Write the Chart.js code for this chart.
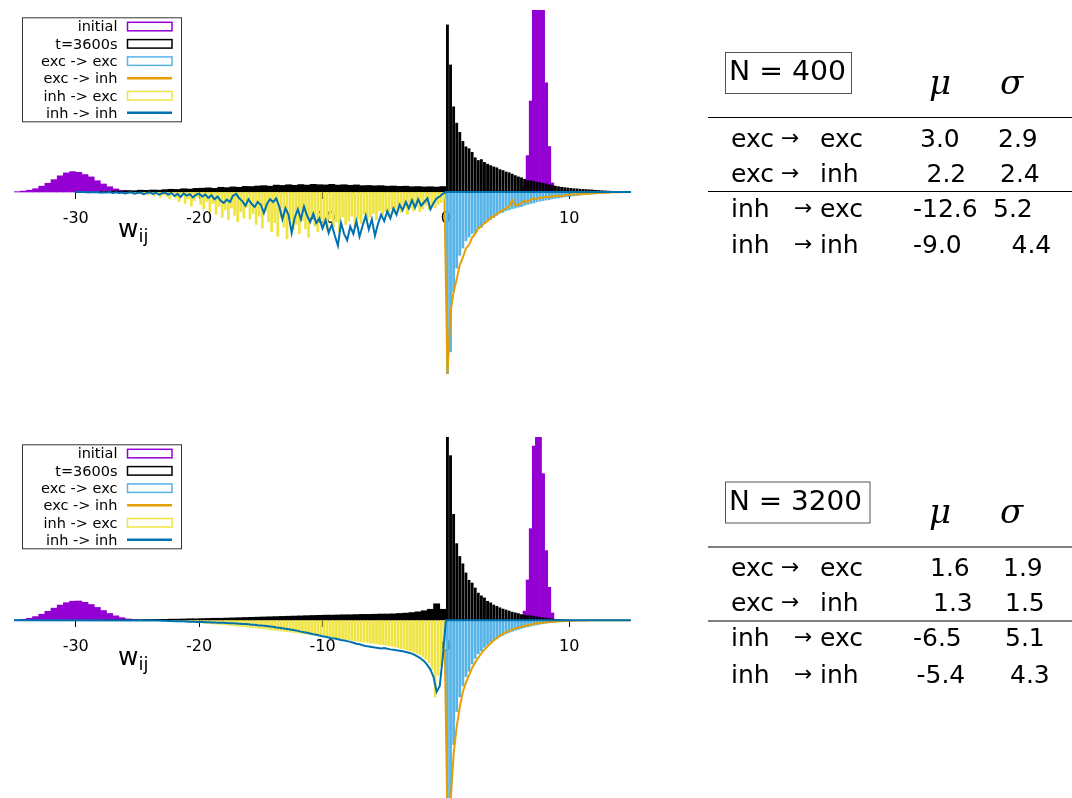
<!DOCTYPE html>
<html>
<head>
<meta charset="utf-8">
<title>w_ij distributions</title>
<script src="https://cdn.jsdelivr.net/npm/chart.js@4.4.1/dist/chart.umd.min.js"></script>
<style>
  html, body { margin: 0; padding: 0; background: #fff; }
  body { position: relative; width: 1072px; height: 798px; overflow: hidden; font-family: 'DejaVu Sans', sans-serif; }
  canvas { position: absolute; left: 0; }
  #chart400 { top: 0; }
  #chart3200 { top: 420px; }
  #overlay { position: absolute; left: 0; top: 0; pointer-events: none; }
</style>
</head>
<body>
<canvas id="chart400" width="660" height="400"></canvas>
<canvas id="chart3200" width="660" height="378"></canvas>
<svg id="overlay" width="1072" height="798" xmlns="http://www.w3.org/2000/svg"></svg>
<script>
// ---------- axis ----------
const X_MIN = -35;
const X_MAX = 15;
const xTicks = [-30, -20, -10, 0, 10];

// ---------- bin layout (bin centres) ----------
const WIDE_BIN = 0.5;
const NARROW_BIN = 0.25;
const initLeftStart = -34.75;   // wide bins
const initRightStart = 6.375;   // narrow bins
const blackNegStart = -27.75;   // wide bins
const posStart = 0.125;         // narrow bins, 0..15
const orangeStart = -0.125;     // line points
const inhExcStart400 = -25.875; // narrow bins
const inhExcStart3200 = -23.875;
const inhInhStart400 = -30;     // line points, step 0.25
const inhInhStart3200 = -24;

// ---------- N = 400 (heights in % of half plot height) ----------
const initLeft400 = [0.2, 0.5, 1.0, 1.8, 3.2, 4.8, 6.8, 8.9, 10.5, 11.2, 10.8, 9.6, 8.3, 6.2, 4.4, 2.9, 1.7, 0.9, 0.4, 0.1];
const initRight400 = [3, 20, 50, 115, 140, 150, 130, 60, 25, 5];
const blackNeg400 = [
  0.3, 0.4, 0.6, 0.5, 0.8, 0.7, 1.0, 0.9,
  1.1, 1.0, 1.3, 1.5, 1.4, 1.8, 1.6, 2.0,
  2.1, 2.3, 2.0, 2.6, 2.4, 2.8, 2.6, 3.1,
  3.0, 3.3, 3.5, 3.2, 3.8, 3.6, 4.0, 3.7,
  4.1, 3.8, 4.2, 4.0, 3.9, 4.2, 3.8, 4.0,
  3.7, 3.9, 3.5, 3.6, 3.4, 3.5, 3.2, 3.3,
  3.1, 3.2, 2.9, 3.0, 2.8, 2.9, 2.7, 3.0
];
const blackPos400 = [
  92, 70, 47, 38, 33, 28, 25, 24, 22, 19,
  17.5, 18, 16.5, 15.5, 14.7, 14, 13.5, 12.5, 12, 11.2,
  10.8, 10, 9.2, 8.5, 8, 7.2, 6.5, 6.3, 6, 5.6,
  5.3, 5, 4.6, 4.2, 3.8, 3.4, 3.1, 2.8, 2.6, 2.4,
  2.2, 2.0, 1.9, 1.7, 1.6, 1.5, 1.4, 1.3, 1.1, 1.0,
  0.9, 0.8, 0.7, 0.6, 0.5, 0.4, 0.35, 0.3, 0.2, 0.1
];
const excExc400 = [
  110, 88, 55, 42, 35, 31, 27, 25, 23, 22.5,
  20, 19.5, 17.5, 15.5, 15.3, 14.3, 13, 11.8, 11.4, 10.5,
  10, 9.4, 9, 8.5, 8.2, 7.5, 7, 6.5, 6.2, 5.6,
  5.2, 4.9, 4.6, 4.4, 4, 3.7, 3.4, 3.1, 2.9, 2.7,
  2.5, 2.3, 2.1, 1.9, 1.7, 1.5, 1.4, 1.3, 1.2, 1.0,
  0.9, 0.8, 0.7, 0.6, 0.5, 0.4, 0.3, 0.2, 0.1, 0
];
const excInh400 = [
  0, 100, 66, 55, 48, 40, 36, 31, 29, 25, 23,
  20, 19, 17, 16, 14, 13.5, 12, 11, 10, 9,
  8, 4.5, 7.5, 7, 6, 5, 5.5, 4, 3.5, 4,
  3, 3.2, 2.6, 3, 2.2, 2.4, 1.8, 2.6, 1.6, 1.5,
  1.4, 1.2, 1.5, 1.0, 1.1, 0.8, 0.9, 0.6, 0.7, 0.5,
  0.5, 0.3, 0.4, 0.2, 0.2, 0.1, 0.1, 0, 0, 0
];
const inhExc400 = [
  0.3, 0.6, 0.4, 1.0, 0.5, 1.3, 0.8, 1.8,
  1.2, 2.5, 1.0, 3.2, 1.8, 2.6, 4.0, 1.5,
  3.5, 5.5, 2.5, 6.5, 4.0, 8.0, 5.0, 3.0,
  7.0, 9.5, 5.5, 11.0, 6.5, 12.5, 8.0, 14.0,
  10.0, 15.5, 9.0, 13.0, 16.5, 11.0, 14.5, 8.5,
  15.0, 12.0, 18.0, 13.5, 20.0, 11.0, 16.5, 22.0,
  17.0, 24.5, 14.0, 19.5, 26.0, 15.0, 21.0, 18.0,
  23.0, 16.0, 20.5, 25.0, 14.5, 19.0, 22.0, 17.0,
  18.5, 21.0, 15.0, 19.5, 16.5, 22.0, 14.0, 18.0,
  16.0, 13.5, 19.0, 15.0, 17.5, 12.5, 16.0, 14.0,
  12.0, 15.5, 10.5, 13.0, 11.0, 14.0, 9.5, 12.0,
  10.0, 11.5, 8.5, 12.5, 9.0, 10.5, 8.0, 11.0,
  9.5, 7.5, 10.0, 8.0, 9.0, 7.0, 6.0, 4.0
];
const inhInh400 = [
  0, 0, 0, 0, 0.3, 0, 0.2, 0, 0.4, 0.1, 0.3, 0, 0.5, 0.2, 0.6, 0.3, 0.8, 0.4, 0.2, 0.9, 0.5,
  0.3, 1.2, 0.6, 0.2, 1.0, 0.4, 1.5, 0.7, 0.3, 1.4,
  0.5, 2.2, 1.0, 2.8, 0.8, 2.0, 1.2, 3.0, 1.5, 0.9,
  2.5, 1.4, 3.2, 1.8, 4.0, 2.5, 4.8, 6.0, 4.2, 5.5,
  2.0, 1.0, 3.5, 5.0, 7.5, 4.0, 6.5, 8.2, 5.5, 7.0,
  11.5, 6.5, 4.0, 5.5, 3.5, 8.0, 15.0, 9.0, 12.5, 22.5,
  14.0, 9.5, 15.0, 8.0, 13.0, 16.5, 12.0, 17.0, 14.5, 20.0,
  15.5, 22.5, 18.0, 24.0, 29.5, 17.0, 23.0, 26.5, 19.0, 23.0,
  16.0, 24.5, 18.5, 13.0, 20.5, 15.0, 24.0, 17.5, 12.5, 16.0,
  10.5, 14.5, 9.0, 12.5, 7.0, 10.0, 5.5, 9.0, 4.5, 8.5,
  4.0, 7.5, 5.5, 3.5, 9.5, 6.0, 3.5, 2.5, 1.0, 0
];

// ---------- N = 3200 ----------
const initLeft3200 = [0.2, 0.5, 1.1, 2.0, 3.3, 4.9, 6.6, 8.3, 9.6, 10.4, 10.5, 9.8, 8.6, 7.0, 5.3, 3.7, 2.4, 1.4, 0.7, 0.3];
const initRight3200 = [5, 22, 50, 95, 130, 140, 80, 38, 18, 4];
const blackNeg3200 = [
  0.1, 0.1, 0.2, 0.2, 0.2, 0.3, 0.3, 0.4,
  0.4, 0.5, 0.5, 0.6, 0.6, 0.7, 0.8, 0.8,
  0.9, 1.0, 1.1, 1.1, 1.2, 1.3, 1.4, 1.5,
  1.6, 1.7, 1.8, 1.9, 2.0, 2.1, 2.2, 2.3,
  2.4, 2.5, 2.6, 2.7, 2.8, 2.8, 2.9, 3.0,
  3.0, 3.1, 3.2, 3.2, 3.3, 3.4, 3.4, 3.5,
  3.7, 3.9, 4.2, 4.6, 5.2, 6.0, 9.0, 6.0
];
const blackPos3200 = [
  100, 90, 58, 42, 35, 31, 26, 22, 20.5, 17.8,
  15, 13.5, 12.4, 10.5, 9.7, 8.5, 7.8, 7.0, 6.3, 5.8,
  5.2, 4.6, 4.2, 3.8, 3.3, 3.0, 2.8, 2.6, 2.3, 2.0,
  1.7, 1.5, 1.3, 1.1, 0.9, 0.7, 0.6, 0.5, 0.4, 0.35,
  0.3, 0.25, 0.2, 0.15, 0.1, 0.1, 0.05, 0.05, 0, 0,
  0, 0, 0, 0, 0, 0, 0, 0, 0, 0
];
const excExc3200 = [
  110, 100, 68, 50, 42, 36, 31, 28, 24, 21,
  18.5, 17, 15, 13.5, 12.2, 11.2, 10.2, 9.2, 8.4, 7.6,
  6.9, 6.3, 5.7, 5.2, 4.7, 4.2, 3.8, 3.4, 3.0, 2.7,
  2.4, 2.1, 1.8, 1.6, 1.4, 1.2, 1.0, 0.9, 0.7, 0.6,
  0.5, 0.4, 0.3, 0.25, 0.2, 0.15, 0.1, 0.1, 0.05, 0.05,
  0, 0, 0, 0, 0, 0, 0, 0, 0, 0
];
const excInh3200 = [
  0, 110, 100, 73, 58, 47.5, 39, 34, 30, 26, 23,
  20.5, 18, 16, 14.2, 12.6, 11, 9.8, 8.4, 7.4, 6.6,
  5.8, 5.1, 4.5, 4.0, 3.5, 3.1, 2.7, 2.3, 2.0, 1.7,
  1.5, 1.3, 1.1, 1.0, 0.85, 0.7, 0.6, 0.5, 0.4, 0.35,
  0.3, 0.25, 0.2, 0.15, 0.1, 0.1, 0.05, 0, 0, 0,
  0, 0, 0, 0, 0, 0, 0, 0, 0, 0
];
const inhExc3200 = [
  0.2, 0.3, 0.3, 0.4, 0.5, 0.5, 0.6, 0.7,
  0.8, 0.9, 1.0, 1.1, 1.2, 1.3, 1.4, 1.5,
  1.6, 1.8, 1.9, 2.0, 2.2, 2.3, 2.4, 2.6,
  2.7, 2.9, 3.0, 3.2, 3.4, 3.5, 3.7, 3.9,
  4.1, 4.3, 4.4, 4.6, 4.8, 5.0, 5.2, 5.4,
  5.6, 5.8, 6.0, 6.2, 6.4, 6.6, 6.8, 7.0,
  7.2, 7.4, 7.7, 7.9, 8.1, 8.3, 8.6, 8.8,
  9.0, 9.3, 9.5, 9.7, 10.0, 10.2, 10.4, 10.7,
  10.9, 11.2, 11.4, 11.6, 11.9, 12.1, 12.3, 12.6,
  12.8, 13.0, 13.3, 13.5, 13.8, 14.1, 14.4, 14.8,
  15.2, 15.6, 16.0, 16.5, 17.0, 17.6, 18.3, 19.0,
  20.0, 21.5, 23.5, 27.0, 42.0, 30.0, 25.0, 16.0
];
const inhInh3200 = [
  0.1, 0.1, 0.2, 0.2, 0.3, 0.3, 0.4, 0.4, 0.5,
  0.5, 0.6, 0.6, 0.7, 0.8, 0.8, 0.9, 1.0,
  1.0, 1.1, 1.1, 1.2, 1.2, 1.3, 1.3, 1.4,
  1.5, 1.6, 1.7, 1.8, 1.9, 2.0, 2.1, 2.2,
  2.4, 2.5, 2.7, 2.8, 3.0, 3.2, 3.4, 3.6,
  3.9, 4.1, 4.4, 4.6, 4.9, 5.2, 5.5, 5.8,
  6.2, 6.5, 6.8, 7.2, 7.6, 7.9, 8.3, 8.7,
  9.0, 9.4, 9.8, 10.0, 10.4, 10.8, 11.1, 11.4,
  11.8, 12.3, 12.8, 13.1, 13.6, 14.0, 14.3, 14.6,
  14.9, 15.1, 15.4, 15.2, 15.6, 15.9, 16.1, 16.4,
  16.6, 16.9, 17.3, 17.7, 18.2, 19.0, 20.0, 21.0,
  22.5, 24.5, 27.0, 31.0, 39.0, 36.0, 20.0, 0
];

// ---------- tables ----------
const legendLabels = ['initial', 't=3600s', 'exc -> exc', 'exc -> inh', 'inh -> exc', 'inh -> inh'];
const tableFrom = ['exc', 'exc', 'inh', 'inh'];
const tableTo = ['exc', 'inh', 'exc', 'inh'];
const mu400 = [3.0, 2.2, -12.6, -9.0];
const sigma400 = [2.9, 2.4, 5.2, 4.4];
const mu3200 = [1.6, 1.3, -6.5, -5.4];
const sigma3200 = [1.9, 1.5, 5.1, 4.3];

// ---------- styles ----------
const PURPLE = '#9400d3';
const BLACK = '#000000';
const SKY = '#56b4e9';
const ORANGE = '#e69f00';
const YELLOW = '#f0e442';
const BLUE = '#0072b2';
const legendColors = [PURPLE, BLACK, SKY, ORANGE, YELLOW, BLUE];
const legendKinds = ['box', 'box', 'box', 'line', 'box', 'line'];

function bins(start, step, values, sign) {
    return values.map((v, i) => ({ x: start + i * step, y: sign * v }));
}

function buildChart(canvasId, d) {
    const bar = { type: 'bar', grouped: false, categoryPercentage: 1, borderWidth: 0 };
    const line = { type: 'line', pointRadius: 0, borderWidth: 2, tension: 0, fill: false };

    // inh -> inh runs flat along zero on the positive side
    const inhInhPoints = d.inhInhLead.concat(bins(d.inhInhStart, NARROW_BIN, d.inhInh, -1), [{ x: X_MAX, y: 0 }]);

    return new Chart(document.getElementById(canvasId), {
        type: 'bar',
        data: {
            datasets: [
                { ...bar, label: 'initial', xAxisID: 'x2', data: bins(initLeftStart, WIDE_BIN, d.initLeft, 1), backgroundColor: PURPLE, barPercentage: 1, order: 7 },
                { ...bar, label: 'initial', data: bins(initRightStart, NARROW_BIN, d.initRight, 1), backgroundColor: PURPLE, barPercentage: 1, order: 7 },
                { ...bar, label: 't=3600s', xAxisID: 'x2', data: bins(blackNegStart, WIDE_BIN, d.blackNeg, 1), backgroundColor: BLACK, barPercentage: 1, order: 6 },
                { ...bar, label: 't=3600s', data: bins(posStart, NARROW_BIN, d.blackPos, 1), backgroundColor: BLACK, barPercentage: 0.93, order: 6 },
                { ...bar, label: 'exc -> exc', data: bins(posStart, NARROW_BIN, d.excExc, -1), backgroundColor: SKY, barPercentage: 0.9, order: 5 },
                { ...line, label: 'exc -> inh', data: bins(orangeStart, NARROW_BIN, d.excInh, -1), borderColor: ORANGE, order: 4 },
                { ...bar, label: 'inh -> exc', data: bins(d.inhExcStart, NARROW_BIN, d.inhExc, -1), backgroundColor: YELLOW, barPercentage: 0.88, order: 3 },
                { ...line, label: 'inh -> inh', data: inhInhPoints, borderColor: BLUE, order: 2 }
            ]
        },
        options: {
            responsive: false,
            animation: false,
            devicePixelRatio: 1,
            layout: { padding: d.padding },
            plugins: { legend: { display: false }, tooltip: { enabled: false } },
            scales: {
                x: {
                    type: 'linear',
                    min: X_MIN,
                    max: X_MAX,
                    offset: false,
                    position: { y: 0 },
                    border: { display: false },
                    grid: { display: true, drawOnChartArea: false, drawTicks: true, tickLength: 7, tickColor: '#000', tickWidth: 1, offset: false },
                    ticks: {
                        color: '#000',
                        padding: 10,
                        maxRotation: 0,
                        font: { family: 'DejaVu Sans', size: 16 },
                        callback: (v) => String(v)
                    },
                    afterBuildTicks: (scale) => { scale.ticks = xTicks.map(v => ({ value: v })); }
                },
                x2: { type: 'linear', display: false, min: X_MIN, max: X_MAX, offset: false },
                y: { type: 'linear', display: false, min: d.yMin, max: 100 }
            }
        }
    });
}

buildChart('chart400', {
    initLeft: initLeft400, initRight: initRight400, blackNeg: blackNeg400, blackPos: blackPos400,
    excExc: excExc400, excInh: excInh400, inhExc: inhExc400, inhExcStart: inhExcStart400,
    inhInh: inhInh400, inhInhStart: inhInhStart400, inhInhLead: [],
    yMin: -100, padding: { left: 14, right: 29, top: 10, bottom: 26 }
});
buildChart('chart3200', {
    initLeft: initLeft3200, initRight: initRight3200, blackNeg: blackNeg3200, blackPos: blackPos3200,
    excExc: excExc3200, excInh: excInh3200, inhExc: inhExc3200, inhExcStart: inhExcStart3200,
    inhInh: inhInh3200, inhInhStart: inhInhStart3200, inhInhLead: [{ x: X_MIN, y: 0 }],
    yMin: -97, padding: { left: 14, right: 29, top: 17, bottom: 0 }
});

// ---------- overlay: legends, w_ij labels and the statistics tables ----------
const SVG_NS = 'http://www.w3.org/2000/svg';
const overlay = document.getElementById('overlay');

function svgEl(tag, attrs, text) {
    const el = document.createElementNS(SVG_NS, tag);
    for (const k in attrs) el.setAttribute(k, attrs[k]);
    if (text !== undefined) el.textContent = text;
    overlay.appendChild(el);
    return el;
}

function drawLegend(top) {
    svgEl('rect', { x: 22.5, y: top + 0.5, width: 159, height: 104, fill: '#fff', stroke: '#333', 'stroke-width': 1 });
    legendLabels.forEach((label, i) => {
        const cy = top + 9 + 17.3 * i;
        svgEl('text', { x: 117.5, y: cy + 5, 'text-anchor': 'end', 'font-family': 'DejaVu Sans', 'font-size': 14.5, fill: '#000' }, label);
        if (legendKinds[i] === 'box') {
            svgEl('rect', { x: 127.5, y: cy - 4, width: 44.5, height: 8.5, fill: 'none', stroke: legendColors[i], 'stroke-width': 1.5 });
        } else {
            svgEl('line', { x1: 127, y1: cy, x2: 172, y2: cy, stroke: legendColors[i], 'stroke-width': 2.5 });
        }
    });
}

function drawWij(baseline) {
    const t = svgEl('text', { x: 118, y: baseline, 'font-family': 'DejaVu Sans', 'font-size': 25, fill: '#000' }, 'w');
    const sub = document.createElementNS(SVG_NS, 'tspan');
    sub.setAttribute('font-size', 18);
    sub.setAttribute('dy', 5);
    sub.textContent = 'ij';
    t.appendChild(sub);
}

function drawTable(off, nLabel, boxWidth, nTextWidth, mu, sigma, muX, sigmaX) {
    const font = { 'font-family': 'DejaVu Sans', 'font-size': 25, fill: '#000' };
    svgEl('rect', { x: 725.5, y: off + 52.5, width: boxWidth, height: 41, fill: 'none', stroke: '#555', 'stroke-width': 1 });
    svgEl('text', { x: 729, y: off + 80, textLength: nTextWidth, lengthAdjust: 'spacingAndGlyphs', ...font, 'font-size': 26 }, nLabel);
    const greek = { 'font-family': 'DejaVu Serif', 'font-style': 'italic', 'font-size': 34, fill: '#000' };
    svgEl('text', { x: 929, y: off + 93.5, ...greek }, 'μ');
    svgEl('text', { x: 1000, y: off + 93.5, ...greek }, 'σ');
    svgEl('line', { x1: 708, y1: off + 117.5, x2: 1072, y2: off + 117.5, stroke: '#000', 'stroke-width': 1 });
    svgEl('line', { x1: 708, y1: off + 191.5, x2: 1072, y2: off + 191.5, stroke: '#000', 'stroke-width': 1 });
    const baselines = [146.7, 181.7, 216.7, 253.0];
    tableFrom.forEach((from, i) => {
        const y = off + baselines[i];
        svgEl('text', { x: 731, y: y, ...font }, from);
        svgEl('text', { x: from === 'exc' ? 781 : 794, y: y - 2, 'font-family': 'DejaVu Sans', 'font-size': 22, fill: '#000' }, '→');
        svgEl('text', { x: 820, y: y, ...font }, tableTo[i]);
        svgEl('text', { x: muX[i], y: y, ...font }, mu[i].toFixed(1));
        svgEl('text', { x: sigmaX[i], y: y, ...font }, sigma[i].toFixed(1));
    });
}

drawLegend(17.3);
drawLegend(444.3);
drawWij(237);
drawWij(665);
drawTable(0, 'N = 400', 126, 117, mu400, sigma400, [920, 926.5, 913, 913], [998, 1000, 993, 1011.5]);
drawTable(429.5, 'N = 3200', 144.5, 133, mu3200, sigma3200, [930, 933, 913, 916.5], [1003, 1005, 1005, 1010]);
</script>
</body>
</html>
